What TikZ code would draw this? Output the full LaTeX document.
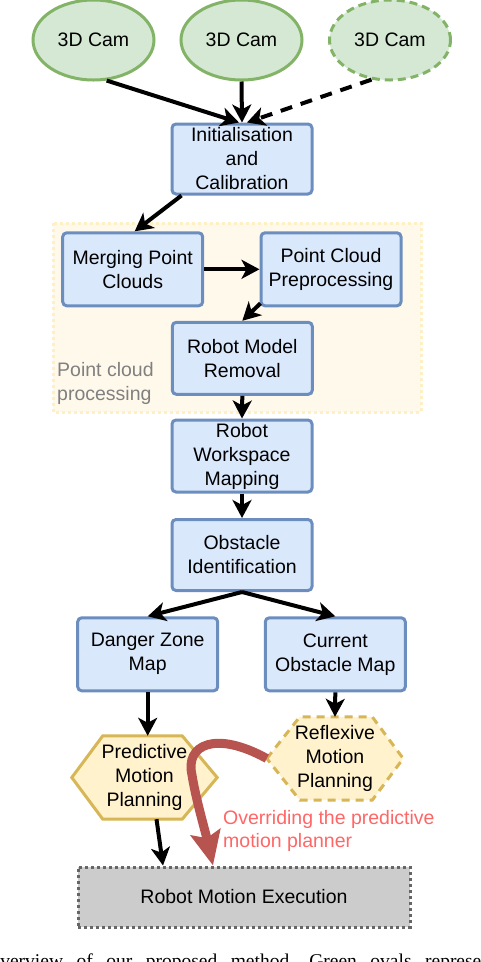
\documentclass[tikz,border=0pt]{standalone}
\usepackage{fontspec}
\setsansfont{Liberation Sans}
\newfontfamily\capfont{Liberation Serif}
\usetikzlibrary{shapes.geometric, arrows.meta, positioning, calc, backgrounds}
\definecolor{camGreen}{HTML}{82B366}
\definecolor{camFill}{HTML}{D5E8D4}
\definecolor{boxBlue}{HTML}{6C8EBF}
\definecolor{boxFill}{HTML}{DAE8FC}
\definecolor{hexGold}{HTML}{D6B656}
\definecolor{hexFill}{HTML}{FFF2CC}
\definecolor{groupLine}{HTML}{FFEFC4}
\definecolor{groupFill}{HTML}{FFF9EB}
\definecolor{groupText}{HTML}{808080}
\definecolor{overRed}{HTML}{B85450}
\definecolor{overText}{HTML}{FF6666}
\definecolor{execGray}{HTML}{666666}
\definecolor{execFill}{HTML}{CCCCCC}
\newcommand{\boxfont}{\sffamily\fontsize{19.5}{24}\selectfont}

\tikzset{
    cam/.style={ellipse, draw=camGreen, fill=camFill, line width=3pt, minimum width=121pt, minimum height=80pt, inner sep=0pt, font=\boxfont},
    stepbox/.style={rectangle, rounded corners=4pt, draw=boxBlue, fill=boxFill, line width=3pt, minimum width=140pt, minimum height=72pt, inner sep=0pt, align=center, font=\boxfont},
    hextext/.style={inner sep=0pt, minimum height=83pt, align=center, font=\boxfont},
    hexline/.style={draw=hexGold, fill=hexFill, line width=3pt, line join=miter},
    flow/.style={-{Stealth[length=18pt,width=19pt,inset=5pt]}, line width=4pt},
}

\begin{document}
\begin{tikzpicture}[x=1pt, y=-1pt]
    \useasboundingbox (0,0) rectangle (480,962);

    % group background
    \fill[groupFill] (53,223) rectangle (421,412);
    \draw[groupLine, line width=3pt, dash pattern=on 3pt off 3pt] (53,223) rectangle (421,412);
    \node[anchor=north west, inner sep=0pt, align=left, text=groupText, font=\boxfont] (pcplabel) at (57,362) {Point cloud\\processing};

    % cameras
    \node[cam] (cam1) at (93.5,40) {3D Cam};
    \node[cam] (cam2) at (241.5,40) {3D Cam};
    \node[cam, dash pattern=on 8pt off 5pt] (cam3) at (390,40) {3D Cam};

    % processing chain
    \node[stepbox, minimum height=70pt] (init) at (242,159) {Initialisation\\and\\Calibration};
    \node[stepbox, minimum height=73pt] (merge) at (132.7,269.3) {Merging Point\\Clouds};
    \node[stepbox, minimum height=73pt] (preproc) at (331,269.3) {Point Cloud\\Preprocessing};
    \node[stepbox] (rmr) at (242.3,358.3) {Robot Model\\Removal};
    \node[stepbox] (workspace) at (242,456) {Robot\\Workspace\\Mapping};
    \node[stepbox, minimum height=71pt] (obstid) at (242,555) {Obstacle\\Identification};
    \node[stepbox, minimum height=73pt] (danger) at (147.7,654.3) {Danger Zone\\Map};
    \node[stepbox, minimum height=73pt] (current) at (335.3,654.3) {Current\\Obstacle Map};

    % planners
    \node[hextext, minimum width=145pt] (pred) at (144.5,777.5) {Predictive\\Motion\\Planning};
    \node[hextext, minimum width=136pt] (reflex) at (335,758.5) {Reflexive\\Motion\\Planning};
    \begin{scope}[on background layer]
        \draw[hexline] (pred.west) -- ([xshift=31pt]pred.north west) -- ([xshift=-35pt]pred.north east) -- (pred.east) -- ([xshift=-35pt]pred.south east) -- ([xshift=31pt]pred.south west) -- cycle;
        \draw[hexline, dash pattern=on 8pt off 6pt] (reflex.west) -- ([xshift=33pt]reflex.north west) -- ([xshift=-31pt]reflex.north east) -- (reflex.east) -- ([xshift=-31pt]reflex.south east) -- ([xshift=33pt]reflex.south west) -- cycle;
    \end{scope}

    \node[rectangle, draw=execGray, fill=execFill, line width=3pt, dash pattern=on 3pt off 3pt, minimum width=332pt, minimum height=60pt, inner sep=0pt, font=\boxfont] (exec) at (244,897) {Robot Motion Execution};

    % connectors
    \draw[flow] (cam1.-72) -- ([xshift=-3pt]init.north);
    \draw[flow] (cam2.south) -- (init.north);
    \draw[flow, dash pattern=on 12pt off 9pt] (cam3.-115) -- ([xshift=5pt]init.north);
    \draw[flow] ([xshift=11pt]init.south west) -- ([xshift=2pt]merge.north);
    \draw[flow] (merge.east) -- (preproc.west);
    \draw[flow] ([shift={(1pt,4pt)}]preproc.south west) -- (rmr.north);
    \draw[flow] (rmr.south) -- (workspace.north);
    \draw[flow] (workspace.south) -- (obstid.north);
    \draw[flow] (obstid.south) -- (danger.north);
    \draw[flow] (obstid.south) -- (current.north);
    \draw[flow] (danger.south) -- (pred.north -| danger.south);
    \draw[flow] (current.south) -- (reflex.north);
    \draw[flow] ([xshift=12pt]pred.south) -- ([xshift=-81pt]exec.north);

    % override
    \draw[overRed, line width=9pt, -{Stealth[length=34pt,width=30pt,inset=6pt]}] (reflex.west) .. controls (215,730) and (185,745) .. (192,775) .. controls (196,800) and (205,830) .. ([xshift=-31pt]exec.north);
    \node[anchor=north west, inner sep=0pt, align=left, text=overText, font=\sffamily\fontsize{19.5}{23}\selectfont] (overnote) at (223,810) {Overriding the predictive\\motion planner};

    % caption, cut by the page edge
    \node[anchor=base west, inner sep=0pt, font=\capfont\fontsize{19.5}{22}\selectfont] (caption) at (-14,967) {\spaceskip=13.5pt Overview of our proposed method. Green ovals represent};
\end{tikzpicture}
\end{document}
